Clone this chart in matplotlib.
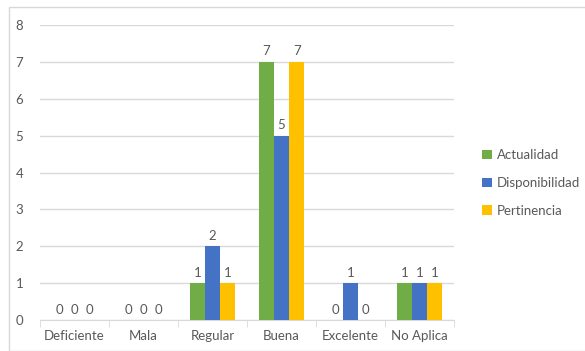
import numpy as np
import matplotlib.pyplot as plt
from matplotlib.patches import Rectangle

plt.rcParams['font.family'] = ['Lato', 'DejaVu Sans']

categories = ['Deficiente', 'Mala', 'Regular', 'Buena', 'Excelente', 'No Aplica']
series = ['Actualidad', 'Disponibilidad', 'Pertinencia']
actualidad = [0, 0, 1, 7, 0, 1]
disponibilidad = [0, 0, 2, 5, 1, 1]
pertinencia = [0, 0, 1, 7, 0, 1]
colors = ['#70AD47', '#4472C4', '#FFC000']

fig = plt.figure(figsize=(5.85, 3.51), dpi=100)
fig.patches.append(Rectangle((9 / 585, 0), 1, 1 - 7 / 351, transform=fig.transFigure,
                             fill=False, edgecolor='#D9D9D9', linewidth=1))
ax = fig.add_axes([40 / 585, 31 / 351, 414 / 585, 295 / 351])

x = np.arange(len(categories))
w = 0.22
text_color = '#595959'
for i, (vals, name, c) in enumerate(zip([actualidad, disponibilidad, pertinencia], series, colors)):
    pos = x + (i - 1) * w
    ax.bar(pos, vals, w, color=c, label=name, zorder=3)
    for xp, v in zip(pos, vals):
        ax.text(xp, v + 0.12, str(v), ha='center', va='bottom', fontsize=9.5, color=text_color)

ax.set_xlim(-0.5, len(categories) - 0.5)
ax.set_ylim(0, 8)
ax.set_yticks(range(0, 9))
ax.set_xticks(x)
ax.set_xticklabels(categories)
ax.set_xticks(np.arange(-0.5, len(categories)), minor=True)
ax.tick_params(axis='x', which='major', length=0, pad=7, labelsize=9.5, labelcolor=text_color)
ax.tick_params(axis='x', which='minor', length=5, color='#D9D9D9')
ax.tick_params(axis='y', length=0, pad=12, labelsize=9.5, labelcolor=text_color)
ax.grid(axis='y', color='#D9D9D9', linewidth=1, zorder=0)
for s in ['top', 'right', 'left']:
    ax.spines[s].set_visible(False)
ax.spines['bottom'].set_color('#D9D9D9')

ax.legend(loc='center left', bbox_to_anchor=(1.04, 0.465), frameon=False, fontsize=9.5,
          handlelength=0.7, handleheight=0.7, handletextpad=0.4, labelspacing=1.2,
          labelcolor=text_color)

fig.savefig('out.png', dpi=100)
